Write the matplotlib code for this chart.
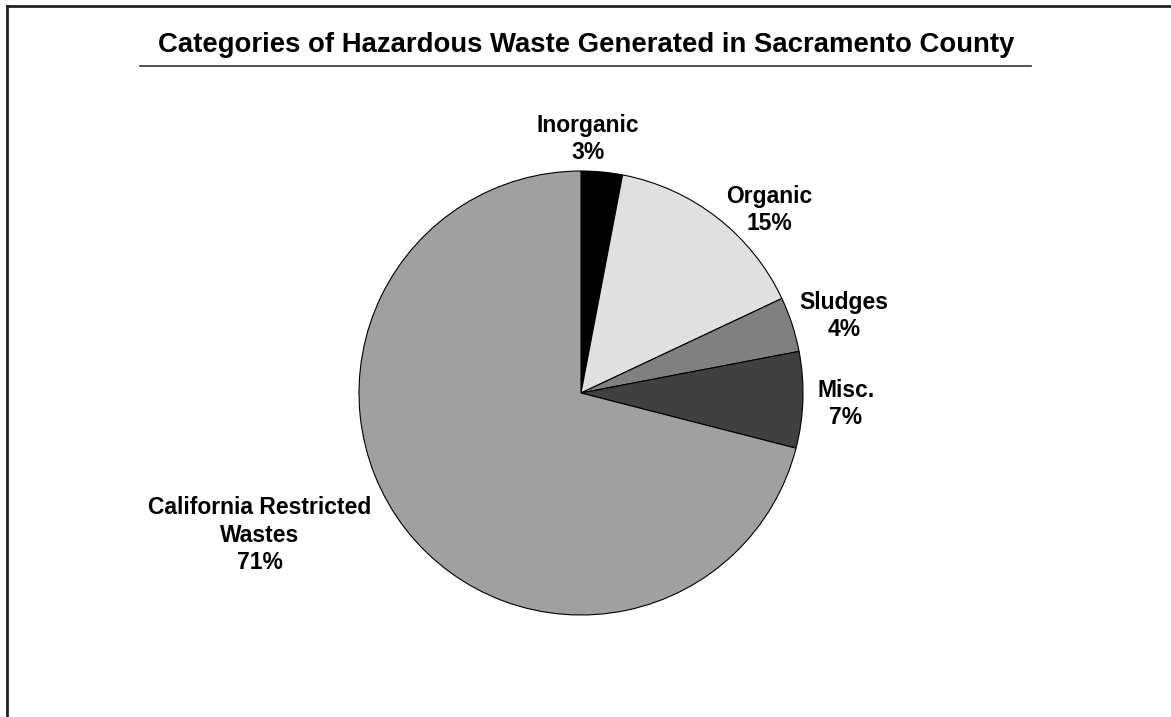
import matplotlib.pyplot as plt
from matplotlib.lines import Line2D

plt.rcParams['font.family'] = ['Liberation Sans', 'DejaVu Sans']

# data
categories = ['Inorganic', 'Organic', 'Sludges', 'Misc.', 'California Restricted\nWastes']
shares = [3, 15, 4, 7, 71]
colors = ['#000000', '#e0e0e0', '#808080', '#404040', '#a0a0a0']

W, H = 1171, 717
fig = plt.figure(figsize=(W / 100, H / 100), dpi=100)
ax = fig.add_axes([0, 0, 1, 1])

# pie in pixel-like data coordinates (y up)
cx, cy, r = 581, H - 393, 222
wedges, texts = ax.pie(shares, colors=colors, startangle=90, counterclock=False,
                       center=(cx, cy), radius=r,
                       labels=[f"{c}\n{s}%" for c, s in zip(categories, shares)],
                       wedgeprops=dict(edgecolor='black', linewidth=0.8),
                       textprops=dict(fontsize=16.5, fontweight='bold', ha='center',
                                      va='center', linespacing=1.23))
ax.set_xlim(0, W)
ax.set_ylim(0, H)
ax.set_aspect('equal')
ax.set_axis_off()

# label positions (pixel coords from top)
label_pos = [(588, 139), (769, 210), (844, 316), (846, 404), (260, 535)]
for t, (x, y) in zip(texts, label_pos):
    t.set_position((x, H - y))
    t.set_ha('center')
    t.set_va('center')

# title with underline
fig.text(586 / W, 1 - 45 / H, 'Categories of Hazardous Waste Generated in Sacramento County',
         ha='center', va='center', fontsize=19.8, fontweight='bold')
fig.add_artist(Line2D([140 / W, 1031 / W], [1 - 66 / H, 1 - 66 / H],
                      color='#333333', linewidth=1.2))

# frame lines on left and top
fig.add_artist(Line2D([7 / W, 7 / W], [0, 1 - 6 / H], color='#222222', linewidth=2))
fig.add_artist(Line2D([7 / W, 1], [1 - 6 / H, 1 - 6 / H], color='#222222', linewidth=2))

fig.savefig('out.png', dpi=100)
